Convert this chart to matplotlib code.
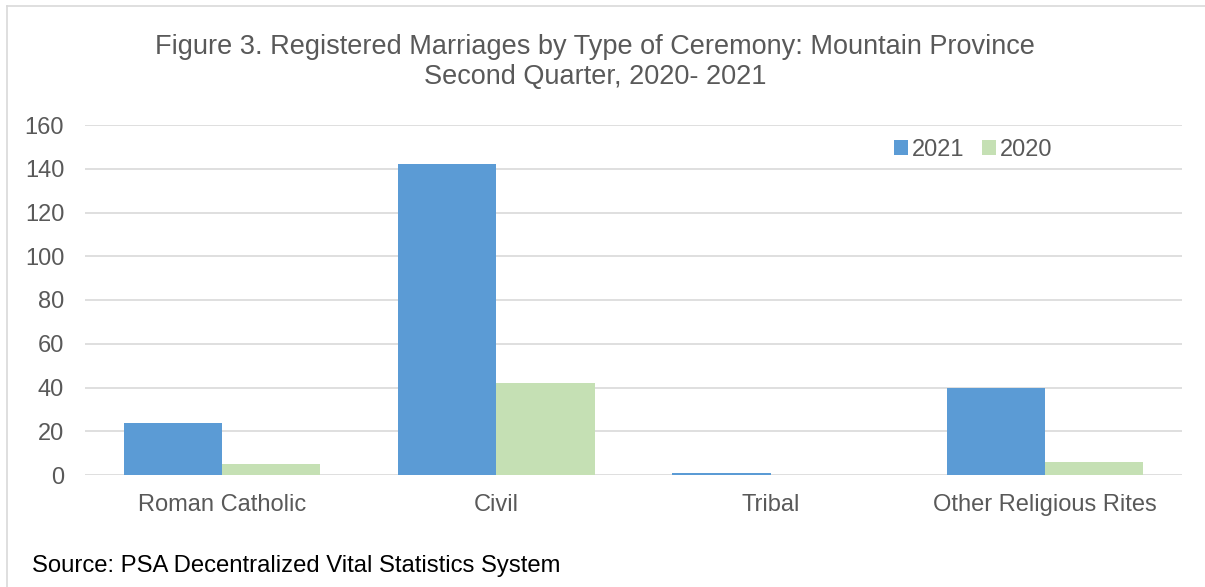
import matplotlib
matplotlib.use("Agg")
import matplotlib.pyplot as plt
import numpy as np
from matplotlib.lines import Line2D

plt.rcParams['font.family'] = ['Liberation Sans', 'DejaVu Sans']

categories = ["Roman Catholic", "Civil", "Tribal", "Other Religious Rites"]
values_2021 = [24, 142, 1, 40]
values_2020 = [5, 42, 0, 6]
yticks = [0, 20, 40, 60, 80, 100, 120, 140, 160]

W, H = 1205, 587
fig = plt.figure(figsize=(W / 100, H / 100), dpi=100)
ax = fig.add_axes([85 / W, 1 - 475 / H, (1182 - 85) / W, (475 - 125) / H])

x = np.arange(len(categories))
bw = 0.358
c21 = "#5b9bd5"
c20 = "#c5e0b4"
ax.bar(x - bw / 2, values_2021, bw, color=c21, label="2021", zorder=3)
ax.bar(x + bw / 2, values_2020, bw, color=c20, label="2020", zorder=3)

ax.set_xlim(-0.5, len(categories) - 0.5)
ax.set_ylim(0, 160)
ax.set_yticks(yticks)
ax.set_yticklabels([str(v) for v in yticks], fontsize=17, color="#595959")
ax.set_xticks(x)
ax.set_xticklabels(categories, fontsize=17, color="#595959")
ax.tick_params(axis='both', length=0)
ax.tick_params(axis='y', pad=15)
ax.tick_params(axis='x', pad=14)
ax.grid(axis='y', color="#d9d9d9", linewidth=1.2, zorder=0)
for s in ax.spines.values():
    s.set_visible(False)

leg = ax.legend(loc='center left', bbox_to_anchor=((894 - 85) / (1182 - 85), (475 - 150) / 350),
                ncol=2, frameon=False, fontsize=17, handlelength=0.6, handleheight=0.6,
                handletextpad=0.17, columnspacing=0.72, borderaxespad=0, borderpad=0)
for t in leg.get_texts():
    t.set_color("#595959")

fig.text(595 / W, 1 - 62 / H,
         "Figure 3. Registered Marriages by Type of Ceremony: Mountain Province\nSecond Quarter, 2020- 2021",
         ha='center', va='center', fontsize=19.5, color="#595959", linespacing=1.22)
fig.text(32 / W, 1 - 566 / H, "Source: PSA Decentralized Vital Statistics System",
         ha='left', va='center', fontsize=17.2, color="black")

# outer chart border (top and left visible)
fig.add_artist(Line2D([7 / W, 1.0], [1 - 6 / H, 1 - 6 / H], color="#d9d9d9", linewidth=1.2))
fig.add_artist(Line2D([7 / W, 7 / W], [0, 1 - 6 / H], color="#d9d9d9", linewidth=1.2))

fig.savefig("out.png", dpi=100)
